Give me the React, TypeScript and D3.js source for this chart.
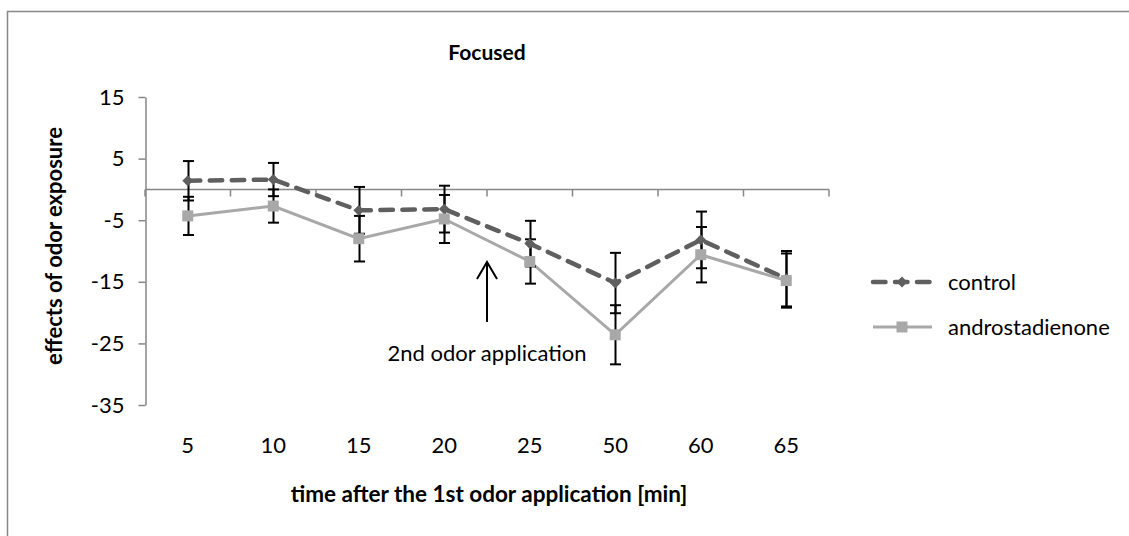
import * as React from "react"
import * as d3 from "d3"

// time points after the 1st odor application
const categories = ["5", "10", "15", "20", "25", "50", "60", "65"]
const controlValues = [1.4, 1.6, -3.4, -3.2, -8.8, -15.2, -8.2, -14.5]
const controlErrors = [3.2, 2.7, 3.8, 3.8, 3.7, 4.9, 4.6, 4.5]
const androValues = [-4.3, -2.7, -8.0, -4.8, -11.7, -23.6, -10.6, -14.8]
const androErrors = [3.1, 2.7, 3.7, 3.9, 3.6, 4.8, 4.5, 4.4]
const yTicks = [15, 5, -5, -15, -25, -35]

const WIDTH = 1129
const HEIGHT = 536
const FONT = "Lato, 'Open Sans', sans-serif"
const TEXT_SIZE = 22
const AXIS_GREY = "#878787"
const CONTROL_COLOR = "#5f5f5f"
const ANDRO_COLOR = "#a8a8a8"

interface Point {
    readonly cat: string
    readonly value: number
    readonly err: number
}

const App = (): JSX.Element => {
    const ref = React.useRef<SVGSVGElement | null>(null)

    React.useEffect(() => {
        const svg = d3.select(ref.current)
        svg.selectAll("*").remove()

        const x = d3.scaleBand<string>().domain(categories).range([145, 829])
        const y = d3.scaleLinear().domain([-35, 15]).range([405, 97])
        const cx = (c: string) => (x(c) || 0) + x.bandwidth() / 2

        const control: Point[] = categories.map((c, i) => ({ cat: c, value: controlValues[i], err: controlErrors[i] }))
        const andro: Point[] = categories.map((c, i) => ({ cat: c, value: androValues[i], err: androErrors[i] }))

        // chart frame (only left and top edges fall inside the picture)
        svg.append("path")
            .attr("d", `M7.5,${HEIGHT} V11.5 H${WIDTH}`)
            .attr("fill", "none")
            .attr("stroke", AXIS_GREY)
            .attr("stroke-width", 1.5)

        // title
        svg.append("text")
            .attr("x", 487).attr("y", 60)
            .attr("text-anchor", "middle")
            .attr("font-family", FONT).attr("font-size", 21).attr("font-weight", "bold")
            .text("Focused")

        // y axis
        const yAxis = d3.axisLeft(y)
            .tickValues(yTicks)
            .tickFormat(d => String(d))
            .tickSize(7).tickSizeOuter(0).tickPadding(14)
        const yg = svg.append("g").attr("transform", "translate(145.5,0)").call(yAxis)
        yg.select(".domain").attr("stroke", AXIS_GREY).attr("stroke-width", 1.5)
        yg.selectAll(".tick line").attr("stroke", AXIS_GREY).attr("stroke-width", 1.5)
        yg.selectAll(".tick text")
            .attr("font-family", FONT).attr("font-size", TEXT_SIZE).attr("fill", "#000")

        // x axis along zero, ticks at category boundaries
        const y0 = Math.round(y(0)) + 0.5
        svg.append("line")
            .attr("x1", 145).attr("x2", 829)
            .attr("y1", y0).attr("y2", y0)
            .attr("stroke", AXIS_GREY).attr("stroke-width", 1.5)
        svg.append("g").selectAll("line")
            .data(categories.concat(["end"]))
            .enter().append("line")
            .attr("x1", (d, i) => i < categories.length ? (x(d) || 0) : 829)
            .attr("x2", (d, i) => i < categories.length ? (x(d) || 0) : 829)
            .attr("y1", y0).attr("y2", y0 + 7)
            .attr("stroke", AXIS_GREY).attr("stroke-width", 1.5)

        // category labels at the bottom
        svg.append("g").selectAll("text")
            .data(categories)
            .enter().append("text")
            .attr("x", d => cx(d))
            .attr("y", 453)
            .attr("text-anchor", "middle")
            .attr("font-family", FONT).attr("font-size", TEXT_SIZE)
            .text(d => d)

        // axis titles
        svg.append("text")
            .attr("x", 489).attr("y", 502)
            .attr("text-anchor", "middle")
            .attr("font-family", FONT).attr("font-size", 22.5).attr("font-weight", "bold")
            .text("time after the 1st odor application [min]")
        svg.append("text")
            .attr("transform", "translate(62,246) rotate(-90)")
            .attr("text-anchor", "middle")
            .attr("font-family", FONT).attr("font-size", 22).attr("font-weight", "bold")
            .text("effects of odor exposure")

        const line = d3.line<Point>().x(d => cx(d.cat)).y(d => y(d.value))

        // series lines
        svg.append("path")
            .datum(control)
            .attr("d", line)
            .attr("fill", "none")
            .attr("stroke", CONTROL_COLOR)
            .attr("stroke-width", 4.5)
            .attr("stroke-dasharray", "12.5,9.5")
            .attr("stroke-linecap", "round")
        svg.append("path")
            .datum(andro)
            .attr("d", line)
            .attr("fill", "none")
            .attr("stroke", ANDRO_COLOR)
            .attr("stroke-width", 3)

        // error bars
        const drawErrors = (data: Point[]) => {
            const g = svg.append("g").attr("stroke", "#000").attr("stroke-width", 2)
            data.forEach(d => {
                const px = Math.round(cx(d.cat)) + 0.5
                const top = y(d.value + d.err)
                const bot = y(d.value - d.err)
                g.append("line").attr("x1", px).attr("x2", px).attr("y1", top).attr("y2", bot)
                g.append("line").attr("x1", px - 5.5).attr("x2", px + 5.5).attr("y1", top).attr("y2", top)
                g.append("line").attr("x1", px - 5.5).attr("x2", px + 5.5).attr("y1", bot).attr("y2", bot)
            })
        }
        drawErrors(control)
        drawErrors(andro)

        // markers
        const diamond = d3.symbol().type(d3.symbolDiamond2).size(75)
        svg.append("g").selectAll("path")
            .data(control)
            .enter().append("path")
            .attr("d", diamond)
            .attr("transform", d => `translate(${cx(d.cat)},${y(d.value)})`)
            .attr("fill", CONTROL_COLOR)
        svg.append("g").selectAll("rect")
            .data(andro)
            .enter().append("rect")
            .attr("x", d => cx(d.cat) - 5.5)
            .attr("y", d => y(d.value) - 5.5)
            .attr("width", 11).attr("height", 11)
            .attr("fill", ANDRO_COLOR)

        // annotation: 2nd odor application
        const ax = 487
        svg.append("path")
            .attr("d", `M${ax},322 V262 M${ax - 10},279 L${ax},262 L${ax + 10},279`)
            .attr("fill", "none")
            .attr("stroke", "#000")
            .attr("stroke-width", 2)
        svg.append("text")
            .attr("x", 487).attr("y", 361)
            .attr("text-anchor", "middle")
            .attr("font-family", FONT).attr("font-size", TEXT_SIZE)
            .text("2nd odor application")

        // legend
        const legend = svg.append("g")
        const legendItems = [
            { label: "control", y: 282, color: CONTROL_COLOR, dashed: true },
            { label: "androstadienone", y: 327, color: ANDRO_COLOR, dashed: false },
        ]
        legendItems.forEach(item => {
            legend.append("line")
                .attr("x1", 873).attr("x2", 932)
                .attr("y1", item.y).attr("y2", item.y)
                .attr("stroke", item.color)
                .attr("stroke-width", item.dashed ? 4.5 : 3)
                .attr("stroke-dasharray", item.dashed ? "12.5,9.5" : null)
                .attr("stroke-linecap", item.dashed ? "round" : "butt")
            if (item.dashed) {
                legend.append("path")
                    .attr("d", diamond)
                    .attr("transform", `translate(902,${item.y})`)
                    .attr("fill", item.color)
            } else {
                legend.append("rect")
                    .attr("x", 896.5).attr("y", item.y - 5.5)
                    .attr("width", 11).attr("height", 11)
                    .attr("fill", item.color)
            }
            legend.append("text")
                .attr("x", 948).attr("y", item.y + 8)
                .attr("font-family", FONT).attr("font-size", TEXT_SIZE)
                .text(item.label)
        })
    }, [])

    return (
        <svg
            ref={ref}
            width={WIDTH}
            height={HEIGHT}
            style={{ position: "absolute", left: 0, top: 0, background: "#fff" }}
        />
    )
}

export default App
